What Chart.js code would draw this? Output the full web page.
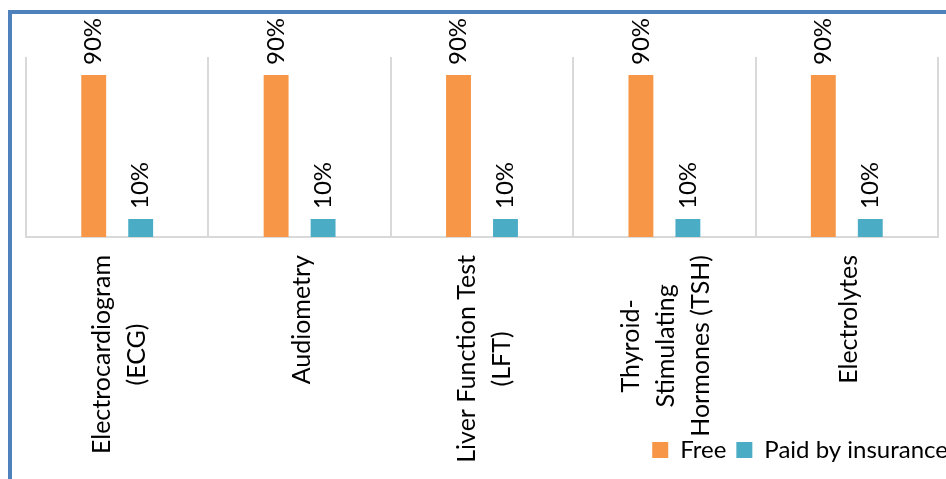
<!DOCTYPE html>
<html lang="en">

<head>
    <meta charset="UTF-8">
    <meta name="viewport" content="width=device-width, initial-scale=1.0">
    <title>Tests: free vs paid by insurance</title>
    <script src="https://cdn.jsdelivr.net/npm/chart.js@4.4.0/dist/chart.umd.min.js"></script>
    <style>
        html, body { margin: 0; padding: 0; background: #fff; width: 946px; height: 479px; overflow: hidden; }
        #canvas-container { position: absolute; left: 0; top: 0; width: 958px; height: 479px; }
        #frame { position: absolute; left: 8px; top: 10px; width: 1200px; height: 800px;
                 border-left: 4px solid #4F81BD; border-top: 4px solid #4F81BD; pointer-events: none; }
    </style>
</head>

<body>
    <div id="canvas-container">
        <canvas id="myChart" width="958" height="479"></canvas>
    </div>
    <div id="frame"></div>
    <script>
        // one entry per test, split into the lines it is printed on
        const categories = [
            ['Electrocardiogram', '(ECG)'],
            ['Audiometry'],
            ['Liver Function Test', '(LFT)'],
            ['Thyroid-', 'Stimulating', 'Hormones (TSH)'],
            ['Electrolytes']
        ]
        const freeValues = [90, 90, 90, 90, 90]
        const insuranceValues = [10, 10, 10, 10, 10]

        const FONT = 'Lato'
        Chart.defaults.font.family = FONT
        Chart.defaults.color = '#000'

        // vertical "90%" style labels above each bar
        const valueLabels = {
            id: 'valueLabels',
            afterDatasetsDraw(chart) {
                const ctx = chart.ctx
                ctx.save()
                ctx.font = '24px ' + FONT
                ctx.fillStyle = '#000'
                ctx.textAlign = 'left'
                ctx.textBaseline = 'middle'
                chart.data.datasets.forEach((ds, di) => {
                    chart.getDatasetMeta(di).data.forEach((bar, i) => {
                        ctx.save()
                        ctx.translate(bar.x, bar.y - 10)
                        ctx.rotate(-Math.PI / 2)
                        ctx.fillText(ds.data[i] + '%', 0, 0)
                        ctx.restore()
                    })
                })
                ctx.restore()
            }
        }

        // rotated category names, lines centred on each other
        const categoryLabels = {
            id: 'categoryLabels',
            afterDraw(chart) {
                const { ctx, chartArea } = chart
                const x = chart.scales.x
                const lineHeight = 35
                ctx.save()
                ctx.font = '25px ' + FONT
                ctx.fillStyle = '#000'
                ctx.textAlign = 'center'
                ctx.textBaseline = 'middle'
                categories.forEach((lines, i) => {
                    const px = x.getPixelForTick(i)
                    const widest = Math.max(...lines.map(l => ctx.measureText(l).width))
                    const cy = chartArea.bottom + 18 + widest / 2
                    lines.forEach((line, j) => {
                        ctx.save()
                        ctx.translate(px + 2 + (j - (lines.length - 1) / 2) * lineHeight, cy)
                        ctx.rotate(-Math.PI / 2)
                        ctx.fillText(line, 0, 0)
                        ctx.restore()
                    })
                })
                ctx.restore()
            }
        }

        const data = {
            labels: categories.map(l => l.join(' ')),
            datasets: [
                {
                    label: 'Free',
                    backgroundColor: '#F79646',
                    borderWidth: 0,
                    data: freeValues,
                    categoryPercentage: 0.515,
                    barPercentage: 0.53
                },
                {
                    label: 'Paid by insurance',
                    backgroundColor: '#4BACC6',
                    borderWidth: 0,
                    data: insuranceValues,
                    categoryPercentage: 0.515,
                    barPercentage: 0.53
                }]
        }

        const config = {
            type: 'bar',
            data,
            options: {
                responsive: false,
                animation: false,
                layout: { padding: { left: 26, right: 0, top: 57, bottom: 7 } },
                plugins: {
                    legend: {
                        position: 'bottom',
                        align: 'end',
                        labels: {
                            boxWidth: 16,
                            boxHeight: 16,
                            padding: 10,
                            color: '#000',
                            font: { size: 24 }
                        }
                    },
                    tooltip: { enabled: false }
                },
                scales: {
                    x: {
                        grid: { color: '#D9D9D9', lineWidth: 2, drawTicks: false },
                        border: { color: '#D9D9D9', width: 2 },
                        ticks: { display: false },
                        afterFit: s => { s.height = 191 }
                    },
                    y: {
                        position: 'right',
                        min: 0,
                        max: 100,
                        grid: { display: false },
                        border: { display: false },
                        ticks: { display: false },
                        afterFit: s => { s.width = 20 }
                    }
                }
            },
            plugins: [valueLabels, categoryLabels]
        }

        var myChart = new Chart(document.getElementById('myChart'), config)
    </script>
</body>

</html>
